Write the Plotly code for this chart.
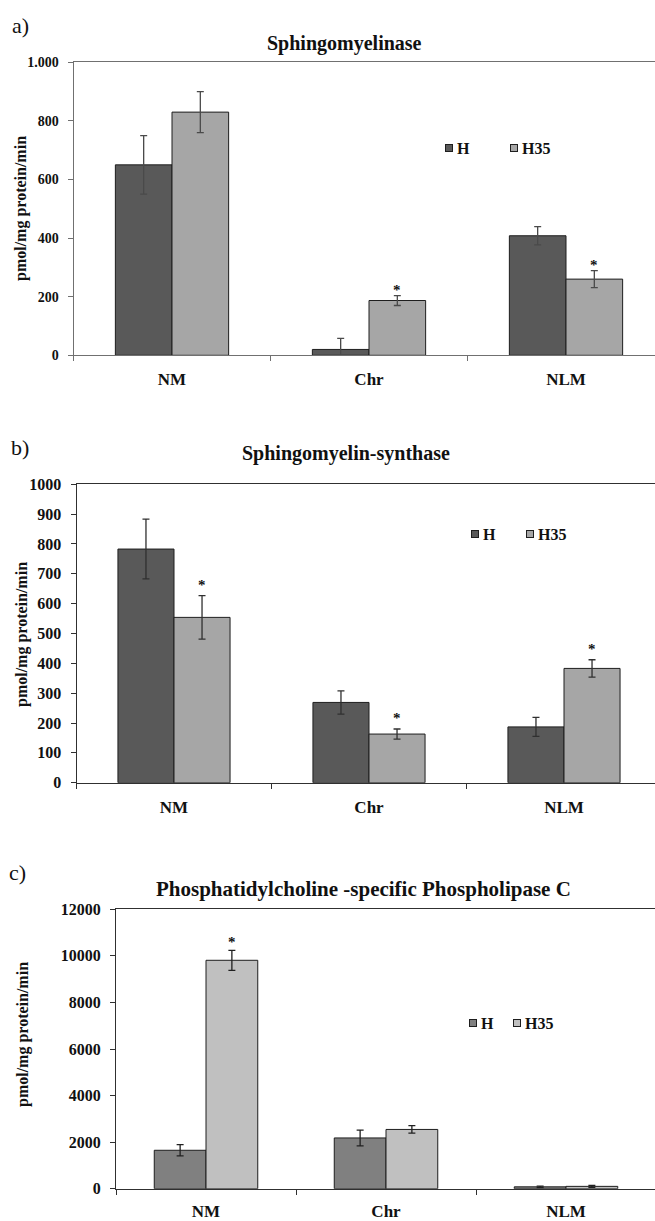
import plotly.graph_objects as go

# ---------------- data ----------------
categories = ["NM", "Chr", "NLM"]
series_names = ["H", "H35"]

# a) Sphingomyelinase
a_H = [650, 20, 408]
a_H_err = [100, 38, 31]
a_H35 = [830, 187, 260]
a_H35_err = [70, 17, 29]
a_H35_star = [False, True, True]
a_tickvals = [0, 200, 400, 600, 800, 1000]
a_ticktext = ["0", "200", "400", "600", "800", "1.000"]

# b) Sphingomyelin-synthase
b_H = [783, 269, 187]
b_H_err = [100, 39, 32]
b_H35 = [554, 163, 383]
b_H35_err = [73, 17, 29]
b_H35_star = [True, True, True]
b_tickvals = [0, 100, 200, 300, 400, 500, 600, 700, 800, 900, 1000]
b_ticktext = ["0", "100", "200", "300", "400", "500", "600", "700", "800", "900", "1000"]

# c) Phosphatidylcholine-specific Phospholipase C
c_H = [1650, 2180, 80]
c_H_err = [240, 340, 30]
c_H35 = [9810, 2545, 100]
c_H35_err = [430, 160, 40]
c_H35_star = [True, False, False]
c_tickvals = [0, 2000, 4000, 6000, 8000, 10000, 12000]
c_ticktext = ["0", "2000", "4000", "6000", "8000", "10000", "12000"]

titles = ["Sphingomyelinase", "Sphingomyelin-synthase",
          "Phosphatidylcholine -specific Phospholipase C"]
letters = ["a)", "b)", "c)"]
ytitle = "pmol/mg protein/min"

W, H = 655, 1221
SERIF = "Liberation Serif, Times New Roman, serif"


def px_x(p):
    return p / W


def px_y(p):
    return 1 - p / H


panels = [
    dict(H=a_H, He=a_H_err, H35=a_H35, H35e=a_H35_err, star=a_H35_star,
         tv=a_tickvals, tt=a_ticktext, ymax=1000,
         left=73.5, catw=197, top=62.3, bottom=355.3,
         colors=("#595959", "#a6a6a6"), axis="#707070", err="#4a4a4a",
         title_xy=(344.5, 43), title_size=20, letter_xy=(20, 26),
         ytitle_xy=(21, 209), tick_size=14, cat_size=17, cat_standoff=8,
         leg_sq=(449, 514), leg_tx=(456, 521), leg_y=148, barshift=28,
         star_shift=-4),
    dict(H=b_H, He=b_H_err, H35=b_H35, H35e=b_H35_err, star=b_H35_star,
         tv=b_tickvals, tt=b_ticktext, ymax=1000,
         left=76.5, catw=195, top=484.3, bottom=782.7,
         colors=("#595959", "#a6a6a6"), axis="#303030", err="#303030",
         title_xy=(346, 453), title_size=20, letter_xy=(20, 448),
         ytitle_xy=(22, 635), tick_size=16, cat_size=17, cat_standoff=9,
         leg_sq=(475, 529.5), leg_tx=(482, 536.5), leg_y=534, barshift=28,
         star_shift=1),
    dict(H=c_H, He=c_H_err, H35=c_H35, H35e=c_H35_err, star=c_H35_star,
         tv=c_tickvals, tt=c_ticktext, ymax=12000,
         left=116, catw=180, top=909.3, bottom=1188.7,
         colors=("#808080", "#c0c0c0"), axis="#303030", err="#202020",
         title_xy=(363.5, 889), title_size=21, letter_xy=(17, 872),
         ytitle_xy=(23, 1035), tick_size=16, cat_size=17, cat_standoff=7,
         leg_sq=(473, 517), leg_tx=(480, 523.5), leg_y=1023, barshift=26,
         star_shift=-2),
]

fig = go.Figure()
annotations = []
layout_axes = {}

for i, p in enumerate(panels):
    n = "" if i == 0 else str(i + 1)
    xa, ya = "x" + n, "y" + n
    for k, (name, vals, errs) in enumerate([("H", p["H"], p["He"]),
                                            ("H35", p["H35"], p["H35e"])]):
        fig.add_trace(go.Bar(
            x=categories, y=vals, name=name, xaxis=xa, yaxis=ya,
            showlegend=False,
            marker=dict(color=p["colors"][k], line=dict(color="#1e1e1e", width=1)),
            error_y=dict(type="data", array=errs, visible=True,
                         color=p["err"], thickness=1.3, width=3.5),
        ))
        # legend key (box + label)
        annotations.append(dict(text=" ", xref="paper", yref="paper",
                                x=px_x(p["leg_sq"][k]), y=px_y(p["leg_y"]),
                                xanchor="center", yanchor="middle", showarrow=False,
                                width=6, height=6, borderpad=0, borderwidth=1,
                                bordercolor="#1e1e1e", bgcolor=p["colors"][k],
                                font=dict(size=4)))
        annotations.append(dict(text="<b>%s</b>" % name, xref="paper", yref="paper",
                                x=px_x(p["leg_tx"][k]), y=px_y(p["leg_y"]),
                                xanchor="left", yanchor="middle", showarrow=False,
                                borderpad=0,
                                font=dict(family=SERIF, size=16, color="#111")))
    right = (W - p["left"]) / p["catw"] - 0.5
    layout_axes["xaxis" + n] = dict(
        domain=[px_x(p["left"]), 1], range=[-0.5, right], anchor=ya,
        type="category", tickson="boundaries", ticks="outside", ticklen=5,
        tickcolor=p["axis"], showline=True, linecolor=p["axis"], linewidth=1,
        mirror=True, showgrid=False, zeroline=False, automargin=False,
        ticklabelstandoff=p["cat_standoff"],
        tickfont=dict(family=SERIF, size=p["cat_size"], color="#111", weight="bold"),
    )
    layout_axes["yaxis" + n] = dict(
        domain=[px_y(p["bottom"]), px_y(p["top"])], range=[0, p["ymax"]],
        anchor=xa, tickvals=p["tv"], ticktext=p["tt"], ticks="outside",
        ticklen=5, tickcolor=p["axis"], showline=True, linecolor=p["axis"],
        linewidth=1, showgrid=False, zeroline=False, automargin=False,
        ticklabelstandoff=6,
        tickfont=dict(family=SERIF, size=p["tick_size"], color="#111", weight="bold"),
    )
    annotations.append(dict(text="<b>%s</b>" % titles[i], xref="paper", yref="paper",
                            x=px_x(p["title_xy"][0]), y=px_y(p["title_xy"][1]),
                            xanchor="center", yanchor="middle", showarrow=False,
                            font=dict(family=SERIF, size=p["title_size"], color="#111")))
    annotations.append(dict(text=letters[i], xref="paper", yref="paper",
                            x=px_x(p["letter_xy"][0]), y=px_y(p["letter_xy"][1]),
                            xanchor="center", yanchor="middle", showarrow=False,
                            font=dict(family=SERIF, size=22, color="#111")))
    annotations.append(dict(text="<b>%s</b>" % ytitle, xref="paper", yref="paper",
                            x=px_x(p["ytitle_xy"][0]), y=px_y(p["ytitle_xy"][1]),
                            xanchor="center", yanchor="middle", showarrow=False,
                            textangle=-90,
                            font=dict(family=SERIF, size=16, color="#111")))
    for c, v, e, s in zip(categories, p["H35"], p["H35e"], p["star"]):
        if s:
            annotations.append(dict(text="<b>*</b>", xref=xa, yref=ya, x=c, y=v + e,
                                    xshift=p["barshift"], yshift=p["star_shift"],
                                    xanchor="center", yanchor="bottom",
                                    showarrow=False,
                                    font=dict(family=SERIF, size=15, color="#111")))

fig.update_layout(
    width=W, height=H, template="none",
    margin=dict(l=0, r=0, t=0, b=0, pad=0),
    paper_bgcolor="white", plot_bgcolor="white",
    barmode="group", bargap=0.425, bargroupgap=0,
    showlegend=False, annotations=annotations, **layout_axes,
)

fig.write_html(
    "out.html",
    config={"displayModeBar": False},
    post_script="document.body.style.margin='0';"
                "document.documentElement.style.overflow='hidden';",
)
